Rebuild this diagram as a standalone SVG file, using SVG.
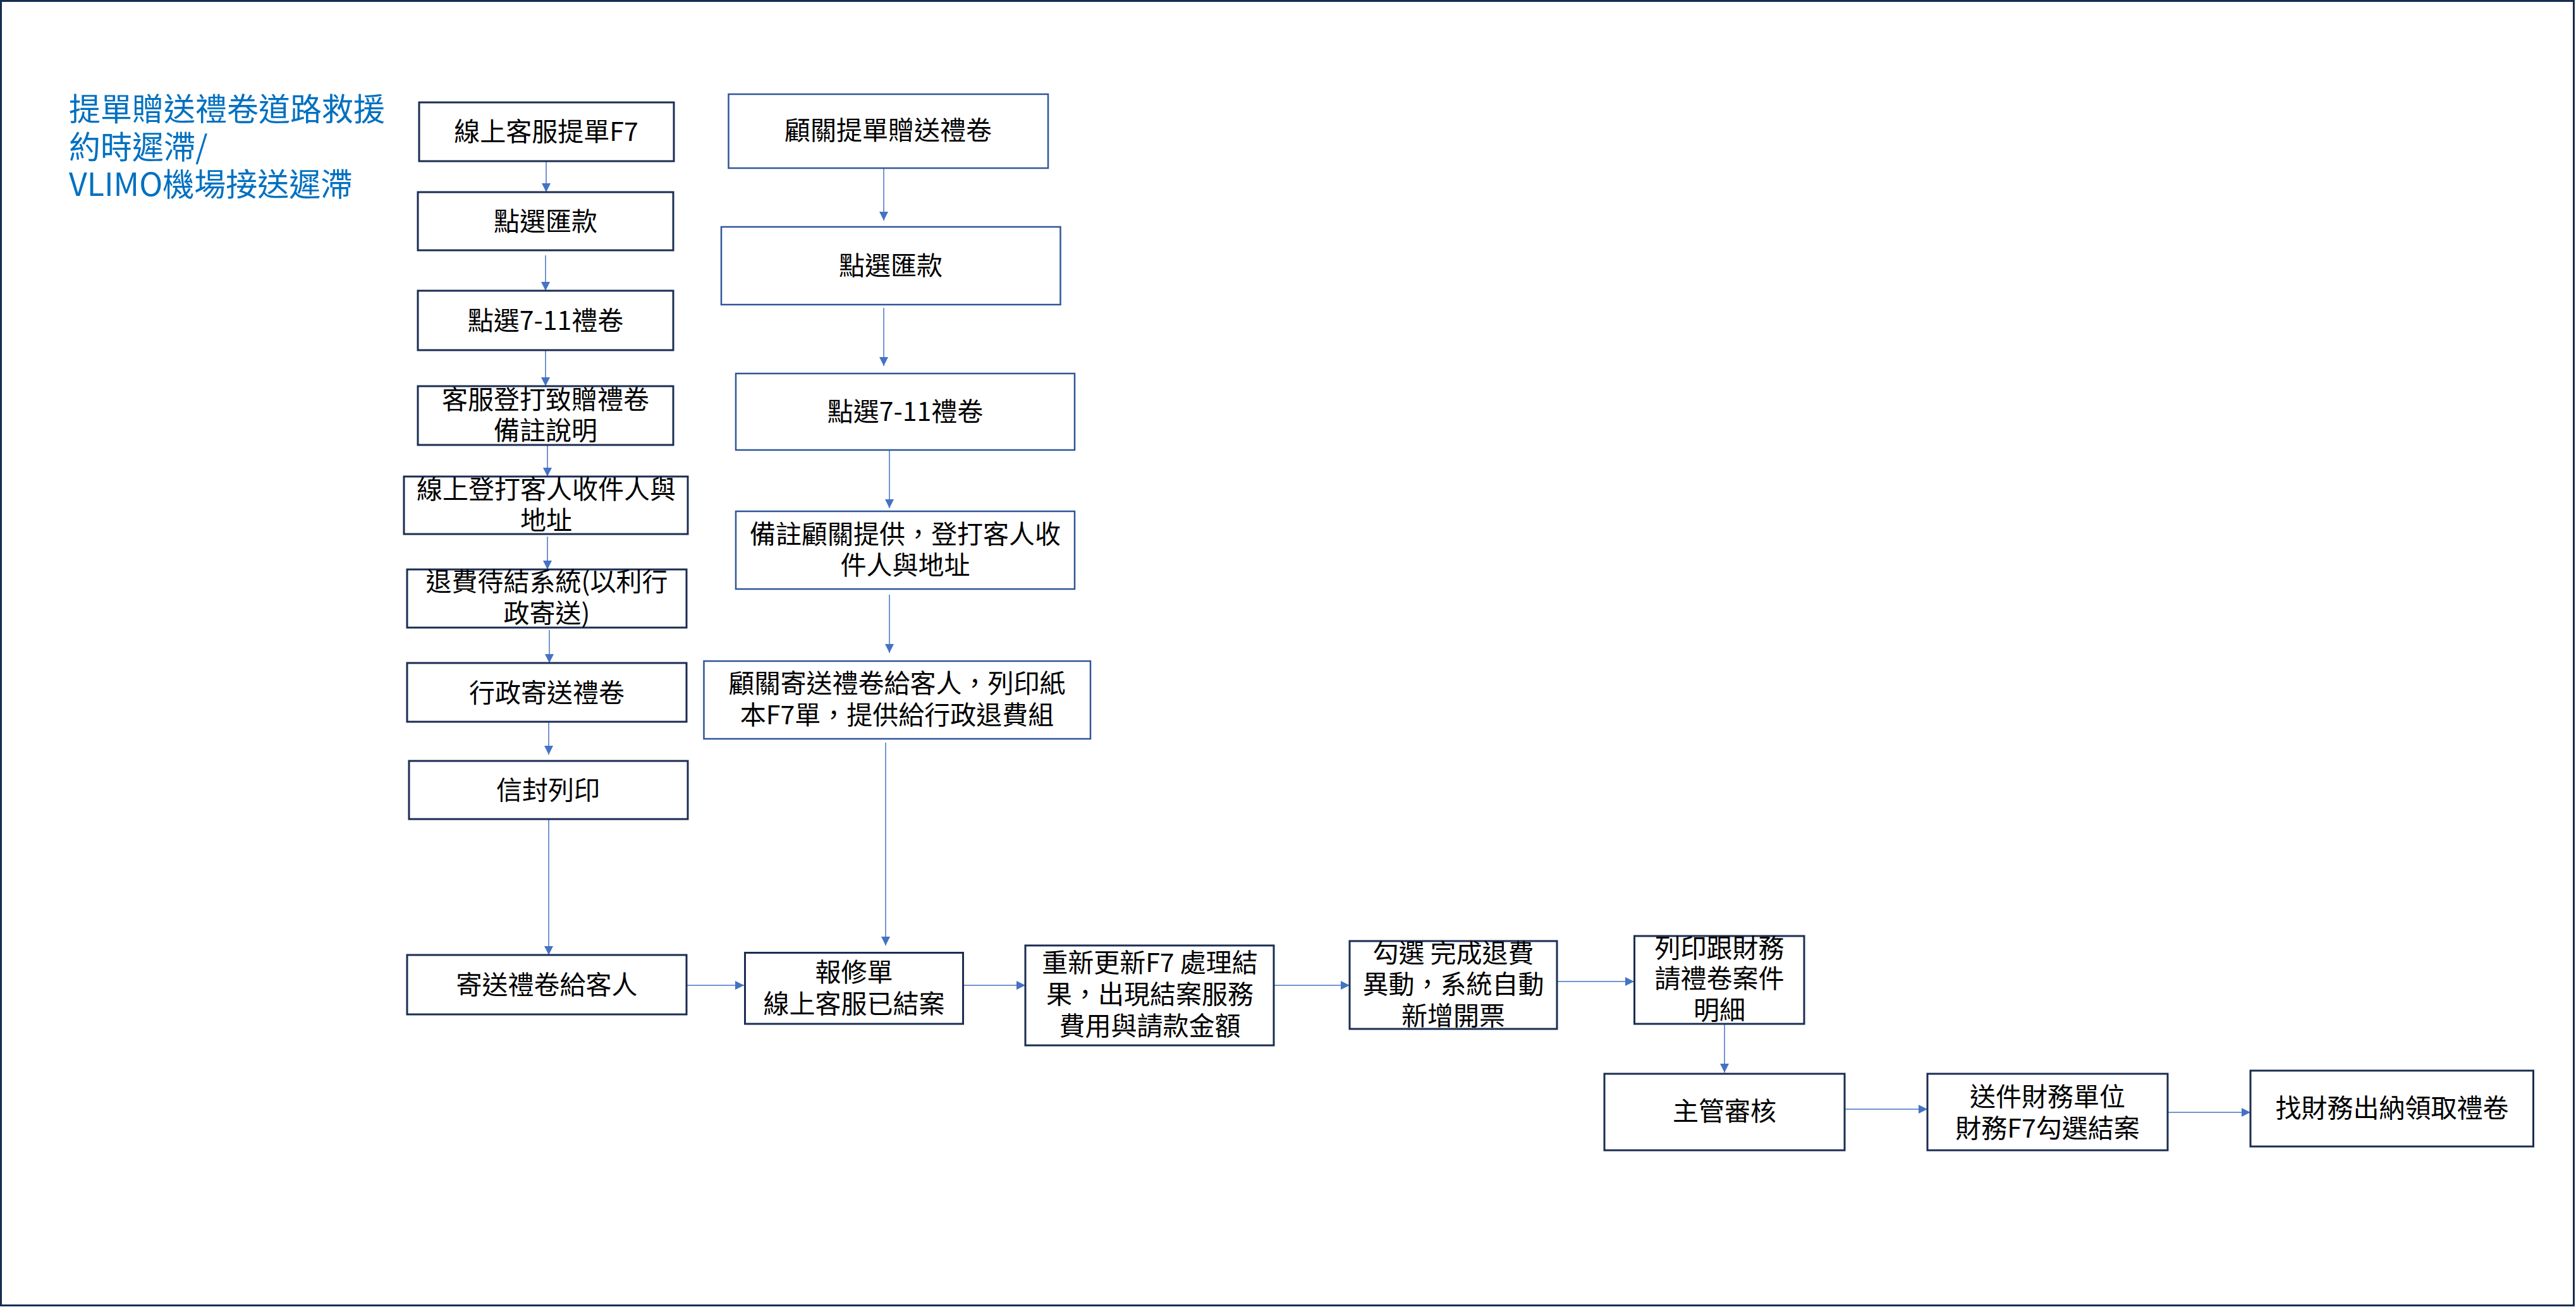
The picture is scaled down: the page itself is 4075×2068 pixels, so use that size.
<svg xmlns="http://www.w3.org/2000/svg" width="4075" height="2068" viewBox="0 0 4075 2068">
<style>
.bx{fill:#ffffff;stroke:#1B2D52;stroke-width:3}
.bb{fill:#ffffff;stroke:#2F5597;stroke-width:2.5}
.t{font-family:"Noto Sans CJK TC","Noto Sans CJK SC",sans-serif;font-size:41px;fill:#000000;text-anchor:middle}
.ttl{font-family:"Noto Sans CJK TC","Noto Sans CJK SC",sans-serif;font-size:50px;fill:#0070C0}
.c{stroke:#4472C4;stroke-width:1.5;fill:none;marker-end:url(#ah)}
</style>
<defs>
<marker id="ah" markerUnits="userSpaceOnUse" markerWidth="14" markerHeight="14" viewBox="0 0 12 12" refX="12" refY="6" orient="auto">
<path d="M0,0 L12,6 L0,12 Z" fill="#4472C4"/>
</marker>
</defs>
<rect x="0" y="0" width="4075" height="2068" fill="#ffffff"/>
<rect x="1.5" y="1.5" width="4070" height="2064" fill="none" stroke="#172C51" stroke-width="3"/>
<g id="title">
<text class="ttl" x="109" y="191">提單贈送禮卷道路救援</text>
<text class="ttl" x="109" y="251">約時遲滯/</text>
<text class="ttl" x="109" y="310">VLIMO機場接送遲滯</text>
</g>
<g id="connectors">
<line class="c" x1="864" y1="255" x2="864" y2="304"/>
<line class="c" x1="863" y1="404" x2="863" y2="460"/>
<line class="c" x1="863" y1="554" x2="863" y2="611"/>
<line class="c" x1="866" y1="704" x2="866" y2="754"/>
<line class="c" x1="866" y1="849" x2="866" y2="901"/>
<line class="c" x1="869" y1="997" x2="869" y2="1049"/>
<line class="c" x1="868" y1="1143" x2="868" y2="1194"/>
<line class="c" x1="868" y1="1297" x2="868" y2="1511"/>
<line class="c" x1="1398" y1="258" x2="1398" y2="349"/>
<line class="c" x1="1398" y1="487" x2="1398" y2="579"/>
<line class="c" x1="1407" y1="712" x2="1407" y2="804"/>
<line class="c" x1="1407" y1="941" x2="1407" y2="1033"/>
<line class="c" x1="1401" y1="1175" x2="1401" y2="1496"/>
<line class="c" x1="1082" y1="1559" x2="1177" y2="1559"/>
<line class="c" x1="1503" y1="1559" x2="1622" y2="1559"/>
<line class="c" x1="2015" y1="1559" x2="2135" y2="1559"/>
<line class="c" x1="2463" y1="1553" x2="2585" y2="1553"/>
<line class="c" x1="2728" y1="1620" x2="2728" y2="1697"/>
<line class="c" x1="2918" y1="1755" x2="3049" y2="1755"/>
<line class="c" x1="3429" y1="1760" x2="3560" y2="1760"/>
</g>
<g id="n1"><rect class="bx" x="663" y="162" width="403" height="93"/><text class="t" x="864" y="223">線上客服提單F7</text></g>
<g id="n2"><rect class="bx" x="661" y="304" width="404" height="92"/><text class="t" x="863" y="365">點選匯款</text></g>
<g id="n3"><rect class="bx" x="661" y="460" width="404" height="94"/><text class="t" x="863" y="522">點選7-11禮卷</text></g>
<g id="n4"><rect class="bx" x="661" y="611" width="404" height="93"/><text class="t" x="863" y="647">客服登打致贈禮卷</text><text class="t" x="863" y="696">備註說明</text></g>
<g id="n5"><rect class="bx" x="639" y="754" width="449" height="91"/><text class="t" x="864" y="789">線上登打客人收件人與</text><text class="t" x="864" y="838">地址</text></g>
<g id="n6"><rect class="bx" x="644" y="901" width="442" height="92"/><text class="t" x="865" y="935">退費待結系統(以利行</text><text class="t" x="865" y="985">政寄送)</text></g>
<g id="n7"><rect class="bx" x="644" y="1049" width="442" height="93"/><text class="t" x="865" y="1111">行政寄送禮卷</text></g>
<g id="n8"><rect class="bx" x="647" y="1204" width="441" height="92"/><text class="t" x="867" y="1265">信封列印</text></g>
<g id="n9"><rect class="bx" x="644" y="1511" width="442" height="94"/><text class="t" x="865" y="1573">寄送禮卷給客人</text></g>
<g id="nA"><rect class="bb" x="1152.5" y="149" width="505.5" height="117"/><text class="t" x="1405" y="221">顧關提單贈送禮卷</text></g>
<g id="nB"><rect class="bb" x="1141" y="359" width="536.5" height="123"/><text class="t" x="1409" y="435">點選匯款</text></g>
<g id="nC"><rect class="bb" x="1164" y="591" width="536" height="121"/><text class="t" x="1432" y="666">點選7-11禮卷</text></g>
<g id="nD"><rect class="bb" x="1164" y="809" width="536" height="123"/><text class="t" x="1432" y="860">備註顧關提供，登打客人收</text><text class="t" x="1432" y="909">件人與地址</text></g>
<g id="nE"><rect class="bb" x="1113.5" y="1046" width="611.5" height="123"/><text class="t" x="1419" y="1096">顧關寄送禮卷給客人，列印紙</text><text class="t" x="1419" y="1146">本F7單，提供給行政退費組</text></g>
<g id="n10"><rect class="bx" x="1178.5" y="1507.5" width="345" height="112.5"/><text class="t" x="1351" y="1553">報修單</text><text class="t" x="1351" y="1603">線上客服已結案</text></g>
<g id="n11"><rect class="bx" x="1622" y="1496" width="393" height="158"/><text class="t" x="1819" y="1538">重新更新F7 處理結</text><text class="t" x="1819" y="1588">果，出現結案服務</text><text class="t" x="1819" y="1638">費用與請款金額</text></g>
<g id="n12"><rect class="bx" x="2135" y="1489" width="328" height="139"/><text class="t" x="2299" y="1523">勾選 完成退費</text><text class="t" x="2299" y="1572">異動，系統自動</text><text class="t" x="2299" y="1622">新增開票</text></g>
<g id="n13"><rect class="bx" x="2585.5" y="1481" width="268.5" height="139"/><text class="t" x="2720" y="1515">列印跟財務</text><text class="t" x="2720" y="1563">請禮卷案件</text><text class="t" x="2720" y="1613">明細</text></g>
<g id="n14"><rect class="bx" x="2538" y="1699" width="380" height="121"/><text class="t" x="2728" y="1773">主管審核</text></g>
<g id="n15"><rect class="bx" x="3049" y="1699" width="380" height="121"/><text class="t" x="3239" y="1750">送件財務單位</text><text class="t" x="3239" y="1800">財務F7勾選結案</text></g>
<g id="n16"><rect class="bx" x="3560" y="1694" width="447.5" height="120"/><text class="t" x="3784" y="1768">找財務出納領取禮卷</text></g>
</svg>
